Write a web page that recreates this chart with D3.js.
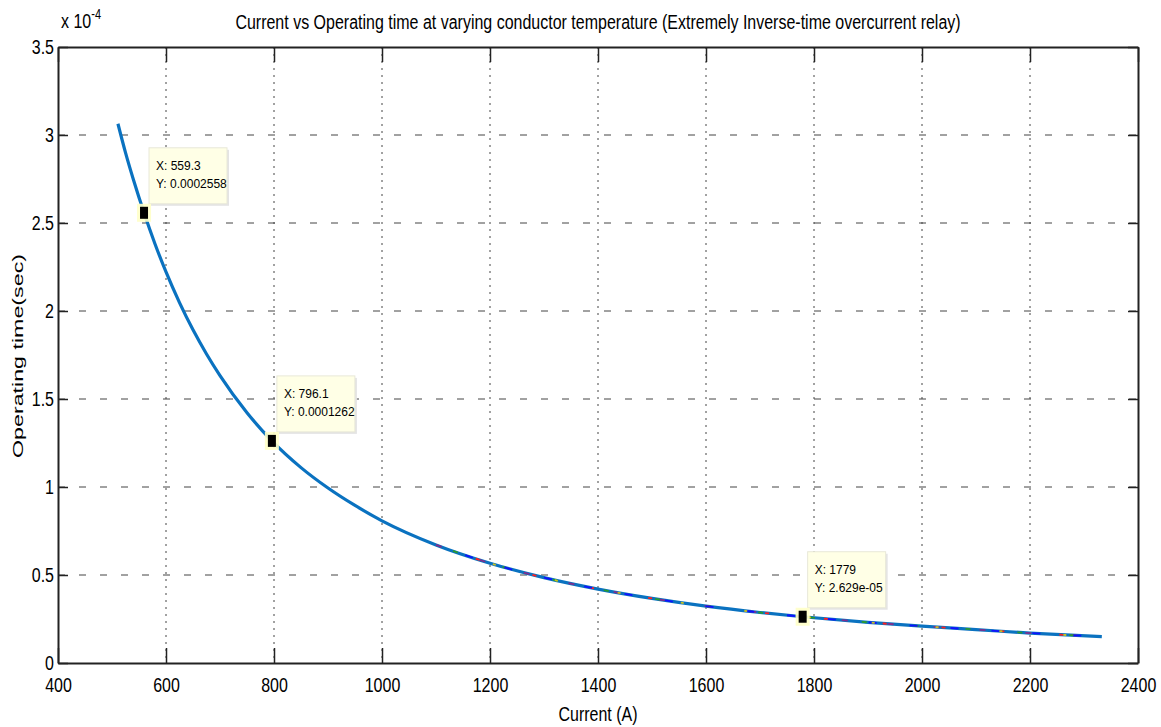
<!DOCTYPE html>
<html>
<head>
<meta charset="utf-8">
<script src="https://cdn.jsdelivr.net/npm/d3@7"></script>
<style>
  body { margin: 0; background: #fff; }
  text { font-family: "Liberation Sans", Arial, sans-serif; fill: #000; }
</style>
</head>
<body>
<div id="chart"></div>
<script>
const WIDTH = 1161;
const HEIGHT = 727;
const MARGIN = { top: 47, right: 23, bottom: 64, left: 58 };
const STRETCH = 1.3;   // the reference text is drawn tall and narrow
const LINE_COLOR = "#0a72c0";

// curve
const current = [511, 525, 540, 559.3, 580, 600, 625, 650, 675, 700, 750, 796.1, 850, 900, 950,
                 1000, 1100, 1200, 1300, 1400, 1500, 1600, 1700, 1779, 1900, 2000, 2100, 2200, 2333];
const opTime = [3.064e-4, 2.90e-4, 2.743e-4, 2.558e-4, 2.378e-4, 2.222e-4, 2.048e-4, 1.893e-4, 1.756e-4,
                1.633e-4, 1.422e-4, 1.262e-4, 1.110e-4, 9.94e-5, 8.95e-5,
                8.08e-5, 6.71e-5, 5.67e-5, 4.85e-5, 4.20e-5, 3.67e-5, 3.23e-5, 2.87e-5, 2.629e-5,
                2.31e-5, 2.09e-5, 1.90e-5, 1.70e-5, 1.50e-5];

// data tips
const tipX = [559.3, 796.1, 1779];
const tipY = [0.0002558, 0.0001262, 2.629e-5];
const tipXLabels = ["X: 559.3", "X: 796.1", "X: 1779"];
const tipYLabels = ["Y: 0.0002558", "Y: 0.0001262", "Y: 2.629e-05"];

const xTicks = [400, 600, 800, 1000, 1200, 1400, 1600, 1800, 2000, 2200, 2400];
const yTicks = [0, 0.5e-4, 1e-4, 1.5e-4, 2e-4, 2.5e-4, 3e-4, 3.5e-4];
const yTickLabels = ["0", "0.5", "1", "1.5", "2", "2.5", "3", "3.5"];

const TITLE = "Current vs Operating time at varying conductor temperature (Extremely Inverse-time overcurrent relay)";

const svg = d3.select("#chart").append("svg")
    .attr("width", WIDTH)
    .attr("height", HEIGHT);

const x = d3.scaleLinear().domain([400, 2400]).range([MARGIN.left, WIDTH - MARGIN.right]);
const y = d3.scaleLinear().domain([0, 3.5e-4]).range([HEIGHT - MARGIN.bottom, MARGIN.top]);

const x0 = x.range()[0], x1 = x.range()[1];
const y0 = y.range()[0], y1 = y.range()[1];

// grid
svg.append("g").selectAll("line")
    .data(xTicks.slice(1, -1))
    .enter().append("line")
    .attr("x1", d => x(d)).attr("x2", d => x(d))
    .attr("y1", y1).attr("y2", y0)
    .attr("stroke", "#444").attr("stroke-width", 1)
    .attr("stroke-dasharray", "2,5");

svg.append("g").selectAll("line")
    .data(yTicks.slice(1, -1))
    .enter().append("line")
    .attr("x1", x0).attr("x2", x1)
    .attr("y1", d => y(d)).attr("y2", d => y(d))
    .attr("stroke", "#444").attr("stroke-width", 1)
    .attr("stroke-dasharray", "7,14");

// axes, ticks inward like matlab
const axBottom = svg.append("g")
    .attr("transform", "translate(0," + y0 + ")")
    .call(d3.axisBottom(x).tickValues(xTicks).tickSize(-15).tickSizeOuter(0).tickFormat(d3.format("d")));
axBottom.selectAll("text")
    .attr("y", 0).attr("dy", null)
    .attr("transform", "translate(0,29) scale(1," + STRETCH + ")")
    .style("font-size", "16px");

const axTop = svg.append("g")
    .attr("transform", "translate(0," + y1 + ")")
    .call(d3.axisTop(x).tickValues(xTicks).tickSize(-15).tickSizeOuter(0).tickFormat(""));

const axLeft = svg.append("g")
    .attr("transform", "translate(" + x0 + ",0)")
    .call(d3.axisLeft(y).tickValues(yTicks).tickSize(-10).tickSizeOuter(0)
        .tickFormat((d, i) => yTickLabels[i]));
axLeft.selectAll("text")
    .attr("x", 0).attr("dy", null)
    .attr("transform", "translate(-4,6) scale(1," + STRETCH + ")")
    .style("font-size", "16px");

const axRight = svg.append("g")
    .attr("transform", "translate(" + x1 + ",0)")
    .call(d3.axisRight(y).tickValues(yTicks).tickSize(-10).tickSizeOuter(0).tickFormat(""));

[axBottom, axTop, axLeft, axRight].forEach(g => {
    g.select(".domain").attr("stroke", "#222").attr("stroke-width", 2);
    g.selectAll(".tick line").attr("stroke", "#222").attr("stroke-width", 1.5);
    g.attr("font-family", null).attr("font-size", null);
});

// the curve
const line = d3.line()
    .x((d, i) => x(current[i]))
    .y(d => y(d))
    .curve(d3.curveMonotoneX);

svg.append("path")
    .datum(opTime)
    .attr("d", line)
    .attr("fill", "none")
    .attr("stroke", LINE_COLOR)
    .attr("stroke-width", 3.2);

// other temperature runs peeking through the blue line
const overlay = [
    { color: "#7e2f8e", dash: "6,40" },
    { color: "#ff2020", dash: "4,55" },
    { color: "#2a9a30", dash: "5,47" },
    { color: "#1010ff", dash: "8,33" },
    { color: "#c8c020", dash: "3,61" }
];
const tailStart = current.findIndex(d => d >= 1100);
overlay.forEach((o, k) => {
    svg.append("path")
        .datum(opTime.slice(tailStart))
        .attr("d", d3.line()
            .x((d, i) => x(current[i + tailStart]))
            .y(d => y(d))
            .curve(d3.curveMonotoneX))
        .attr("fill", "none")
        .attr("stroke", o.color)
        .attr("stroke-width", 1.8)
        .attr("stroke-dasharray", o.dash)
        .attr("stroke-dashoffset", k * 17);
});

// data tips
const tips = svg.append("g");
tipX.forEach((tx, i) => {
    const px = x(tx), py = y(tipY[i]);
    const bx = px + 5, by = py - 65;
    tips.append("rect")
        .attr("x", bx + 2).attr("y", by + 2)
        .attr("width", 78).attr("height", 56)
        .attr("fill", "#e4e4e4");
    tips.append("rect")
        .attr("x", bx).attr("y", by)
        .attr("width", 78).attr("height", 56)
        .attr("fill", "#ffffe6")
        .attr("stroke", "#e8e8d8").attr("stroke-width", 1);
    tips.append("text")
        .attr("x", bx + 7).attr("y", by + 22)
        .style("font-size", "12px")
        .text(tipXLabels[i]);
    tips.append("text")
        .attr("x", bx + 7).attr("y", by + 40)
        .style("font-size", "12px")
        .text(tipYLabels[i]);
    tips.append("rect")
        .attr("x", px - 7).attr("y", py - 9)
        .attr("width", 14).attr("height", 18)
        .attr("fill", "#ffffc8").attr("opacity", 0.9);
    tips.append("rect")
        .attr("x", px - 4).attr("y", py - 6)
        .attr("width", 8).attr("height", 12)
        .attr("fill", "#000");
});

// titles
svg.append("text")
    .attr("transform", "translate(" + ((x0 + x1) / 2) + ",29) scale(1," + STRETCH + ")")
    .attr("text-anchor", "middle")
    .style("font-size", "16px")
    .text(TITLE);

svg.append("text")
    .attr("transform", "translate(" + ((x0 + x1) / 2) + ",721) scale(1," + STRETCH + ")")
    .attr("text-anchor", "middle")
    .style("font-size", "16px")
    .text("Current (A)");

svg.append("text")
    .attr("transform", "translate(23,356) rotate(-90) scale(1.55,1)")
    .attr("text-anchor", "middle")
    .style("font-size", "15px")
    .text("Operating time(sec)");

const expo = svg.append("text")
    .attr("transform", "translate(61,28) scale(1," + STRETCH + ")")
    .style("font-size", "16px");
expo.append("tspan").text("x 10");
expo.append("tspan").attr("dy", -7).style("font-size", "11px").text("-4");
</script>
</body>
</html>
